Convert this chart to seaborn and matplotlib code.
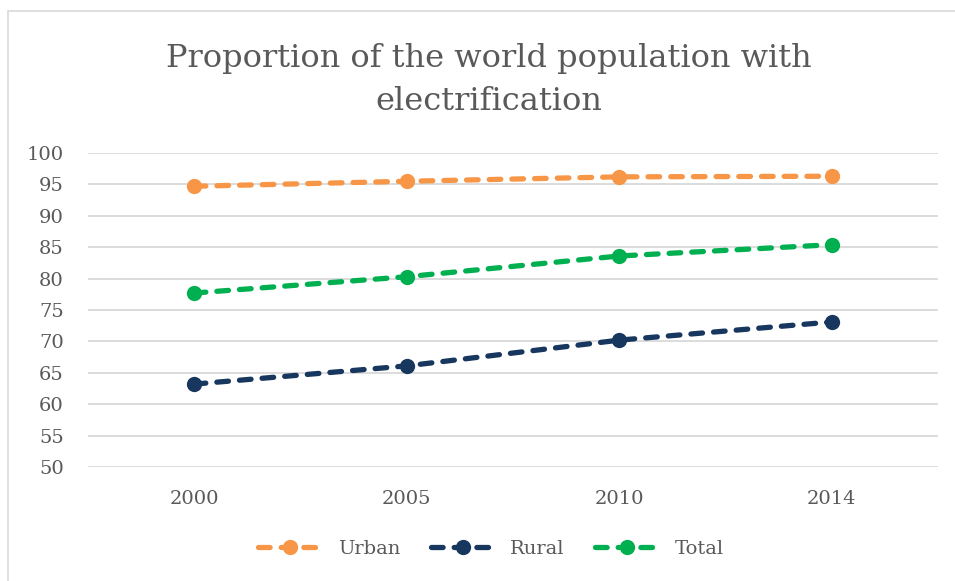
import matplotlib
matplotlib.use("Agg")
import matplotlib.pyplot as plt
import seaborn as sns
import pandas as pd
from matplotlib.patches import Rectangle

years = ["2000", "2005", "2010", "2014"]
urban = [94.7, 95.5, 96.2, 96.3]
rural = [63.2, 66.1, 70.2, 73.1]
total = [77.7, 80.3, 83.6, 85.4]
series_names = ["Urban", "Rural", "Total"]
colors = ["#F79646", "#17375E", "#00B050"]

df = pd.DataFrame({"Year": years * 3,
                   "Value": urban + rural + total,
                   "Series": [s for s in series_names for _ in years]})

sns.set_theme(style="white")
plt.rcParams['font.family'] = ['DejaVu Serif', 'Liberation Serif']

fig = plt.figure(figsize=(9.55, 5.81), dpi=100)
ax = fig.add_axes([88/955, 1-467/581, 850/955, 314/581])

for name, col in zip(series_names, colors):
    sub = df[df.Series == name]
    sns.lineplot(data=sub, x="Year", y="Value", ax=ax, color=col, label=name,
                 linestyle=(0, (2.2, 2.1)), linewidth=3.8, marker="o",
                 markersize=11, markeredgewidth=0, sort=False,
                 dash_capstyle="round")

ax.set_xlim(-0.5, 3.5)
ax.set_ylim(50, 100)
ax.set_yticks(range(50, 101, 5))
ax.grid(axis="y", color="#D9D9D9", linewidth=1.3)
ax.set_axisbelow(True)
for s in ax.spines.values():
    s.set_visible(False)
ax.tick_params(axis="both", length=0, labelsize=14, labelcolor="#595959")
ax.tick_params(axis="y", pad=17.5)
ax.tick_params(axis="x", pad=16.5)
ax.set_xlabel("")
ax.set_ylabel("")

fig.text(489/955, 1-79.5/581, "Proportion of the world population with\nelectrification",
         ha="center", va="center", fontsize=23, color="#595959", linespacing=1.5)

leg = ax.legend(loc="center", bbox_to_anchor=(491/955, 1-549/581), bbox_transform=fig.transFigure,
                ncol=3, frameon=False, fontsize=14, handlelength=3.3, columnspacing=1.55,
                handletextpad=0.8)
for t in leg.get_texts():
    t.set_color("#595959")
for h in leg.get_lines():
    h.set_dash_capstyle("round")

fig.patches.append(Rectangle((8/955, -0.05), 1.0, 1.05 - 11/581, transform=fig.transFigure,
                             fill=False, edgecolor="#D9D9D9", linewidth=1.2))

fig.savefig("out.png", dpi=100)
